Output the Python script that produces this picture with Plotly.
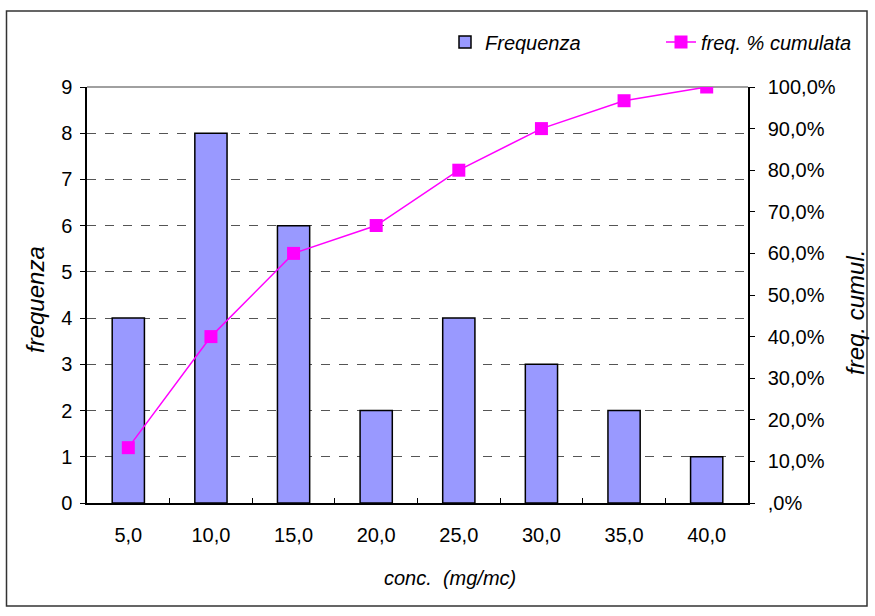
import plotly.graph_objects as go

categories = ["5,0", "10,0", "15,0", "20,0", "25,0", "30,0", "35,0", "40,0"]
frequenza = [4, 8, 6, 2, 4, 3, 2, 1]
cumulata_pct = [13.3, 40.0, 60.0, 66.7, 80.0, 90.0, 96.7, 100.0]
left_ticks = list(range(0, 10))
right_ticks = list(range(0, 101, 10))
right_ticktext = [",0%" if v == 0 else f"{v},0%" for v in right_ticks]

W, H = 875, 616
L, R, T, B = 87, 748, 87, 503
pw, ph = R - L, B - T

def px_x(x):
    return (x - L) / pw

def px_y(y):
    return (B - y) / ph

FONT = "Liberation Sans, Arial, sans-serif"
fig = go.Figure()
fig.add_trace(go.Bar(
    x=categories, y=frequenza, name="Frequenza",
    marker=dict(color="#9999FF", line=dict(color="black", width=1.5)),
    width=0.39,
))
fig.add_trace(go.Scatter(
    x=categories, y=cumulata_pct, name="freq. % cumulata", yaxis="y2",
    mode="lines+markers",
    line=dict(color="#FF00FF", width=1.5),
    marker=dict(symbol="square", size=13, color="#FF00FF"),
))

fig.update_layout(
    width=W, height=H,
    margin=dict(l=L, r=W - R, t=T, b=H - B, pad=0, autoexpand=False),
    plot_bgcolor="white", paper_bgcolor="white",
    font=dict(family=FONT, size=20, color="black"),
    showlegend=True,
    legend=dict(orientation="h", x=px_x(445), xanchor="left", y=px_y(42), yanchor="middle",
                font=dict(size=20, style="italic"), bgcolor="rgba(0,0,0,0)",
                entrywidth=171, entrywidthmode="pixels", tracegroupgap=0),
    xaxis=dict(type="category", showline=True, linecolor="black", linewidth=1.5,
               ticks="inside", tickson="boundaries", ticklen=5, tickcolor="black",
               showgrid=False, tickfont=dict(size=20), ticklabelstandoff=13, mirror=False),
    yaxis=dict(range=[0, 9], tickvals=left_ticks, showline=True, linecolor="black", linewidth=1.5,
               ticks="outside", ticklen=5, tickcolor="black",
               showgrid=True, gridcolor="#555555", griddash="dash", gridwidth=1,
               zeroline=False, tickfont=dict(size=20), ticklabelstandoff=4),
    yaxis2=dict(range=[0, 100], tickvals=right_ticks, ticktext=right_ticktext,
                overlaying="y", side="right", showline=True, linecolor="black", linewidth=1.5,
                ticks="outside", ticklen=5, tickcolor="black", showgrid=False, zeroline=False,
                tickfont=dict(size=20), ticklabelstandoff=9),
    bargap=0.61,
    shapes=[
        dict(type="line", xref="paper", yref="paper", x0=0, x1=1, y0=1, y1=1,
             line=dict(color="#808080", width=1.5), layer="below"),
        dict(type="rect", xref="paper", yref="paper",
             x0=px_x(6.5), x1=px_x(867), y0=px_y(11), y1=px_y(606),
             line=dict(color="#333333", width=1.5)),
    ],
    annotations=[
        dict(text="frequenza", xref="paper", yref="paper", x=px_x(35), y=px_y(300),
             textangle=-90, showarrow=False, font=dict(size=24, style="italic"),
             xanchor="center", yanchor="middle"),
        dict(text="freq. cumul.", xref="paper", yref="paper", x=px_x(855), y=px_y(313),
             textangle=-90, showarrow=False, font=dict(size=24, style="italic"),
             xanchor="center", yanchor="middle"),
        dict(text="conc.  (mg/mc)", xref="paper", yref="paper", x=px_x(450), y=px_y(578),
             showarrow=False, font=dict(size=20, style="italic"),
             xanchor="center", yanchor="middle"),
    ],
)

fig.write_html("out.html", config={"displayModeBar": False},
               post_script="document.body.style.margin='0';")
